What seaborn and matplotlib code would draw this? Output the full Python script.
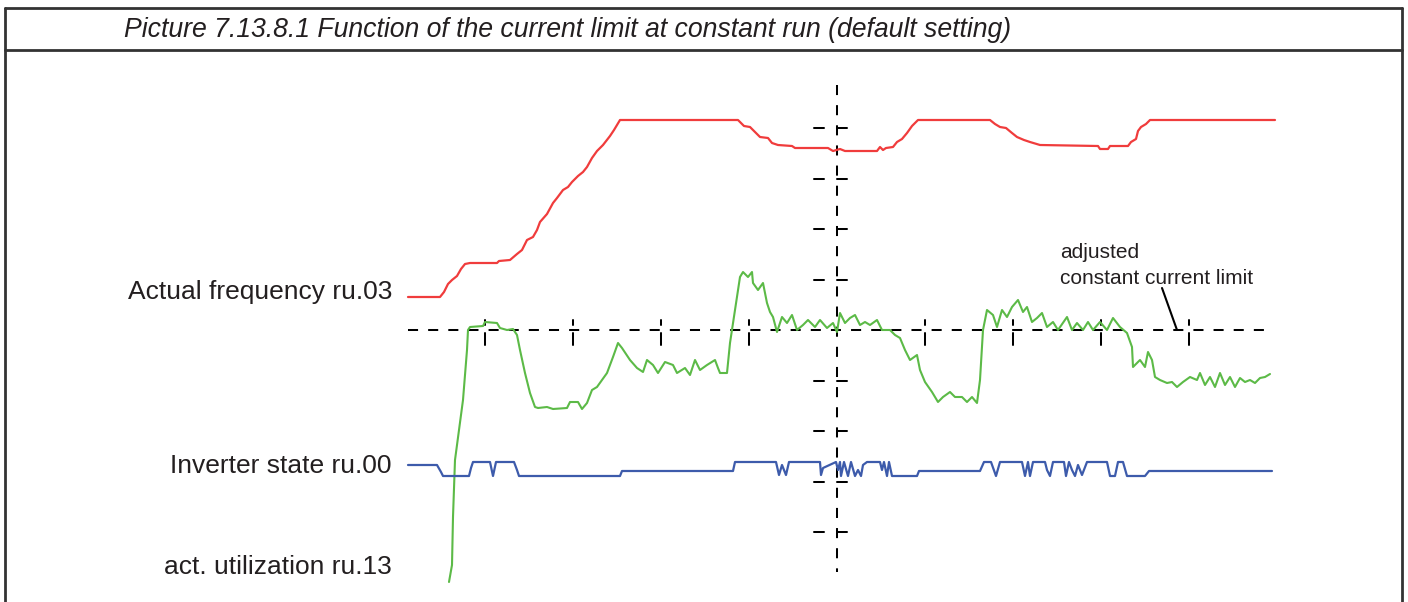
import seaborn as sns
import matplotlib.pyplot as plt
from matplotlib.lines import Line2D

# scope recording, time in ms from start, values in scope points
# (0 = adjusted constant current limit)
freq_t = [0, 32, 36, 40, 44, 49, 53, 57, 62, 89, 91, 102, 109, 114, 119, 125, 129, 132, 139,
          145, 149, 155, 160, 164, 170, 175, 179, 184, 189, 195, 202, 206, 212, 330, 336, 342,
          348, 352, 360, 364, 370, 384, 387, 420, 425, 432, 437, 469, 472, 475, 478, 485, 489,
          494, 499, 504, 510, 582, 587, 592, 598, 604, 609, 616, 622, 632, 690, 692, 700, 702,
          720, 723, 728, 730, 733, 738, 742, 867]
freq_v = [33, 33, 38, 46, 50, 54, 61, 66, 67, 67, 69, 70, 76, 80, 90, 93, 100, 108, 116,
          127, 132, 140, 143, 148, 154, 158, 163, 172, 179, 185, 194, 200, 210, 210, 204, 203,
          197, 193, 192, 187, 185, 184, 182, 182, 179, 181, 179, 179, 183, 180, 182, 183, 188,
          191, 197, 204, 210, 210, 206, 203, 202, 197, 193, 190, 188, 185, 184, 181, 181, 184,
          184, 188, 191, 199, 203, 206, 210, 210]

util_t = [41, 44, 45, 47, 52, 55, 59, 60, 62, 75, 77, 89, 92, 99, 105, 109, 112, 117, 122,
          127, 130, 139, 145, 159, 162, 170, 174, 179, 184, 189, 194, 199, 205, 210, 214, 222,
          229, 235, 239, 245, 250, 257, 265, 269, 277, 282, 287, 292, 299, 307, 310, 312, 319,
          322, 325, 329, 332, 335, 340, 344, 345, 350, 355, 359, 362, 365, 369, 374, 379, 384,
          389, 395, 400, 407, 412, 419, 425, 429, 432, 437, 442, 447, 452, 457, 462, 469, 474,
          482, 487, 492, 497, 502, 509, 512, 517, 524, 530, 535, 542, 547, 554, 559, 564, 569,
          572, 575, 579, 585, 589, 594, 599, 604, 610, 615, 619, 624, 629, 634, 639, 645, 650,
          659, 664, 669, 675, 680, 685, 692, 699, 705, 712, 719, 724, 725, 732, 737, 740, 744,
          747, 752, 759, 764, 769, 775, 782, 789, 792, 797, 802, 807, 812, 817, 822, 827, 832,
          837, 842, 847, 852, 857, 862]
util_v = [-252, -235, -187, -130, -93, -70, -20, 0, 3, 4, 8, 7, 2, 0, 1, -5, -20, -43, -63,
          -77, -78, -77, -79, -78, -72, -72, -79, -73, -60, -57, -50, -43, -27, -13, -18, -30,
          -38, -42, -30, -35, -43, -32, -35, -43, -38, -45, -30, -40, -35, -30, -38, -43, -43,
          -13, 7, 33, 53, 58, 53, 58, 47, 40, 47, 27, 18, 13, -2, 13, 7, 15,
          0, 5, 10, 3, 10, 2, 7, -2, 17, 7, 12, 15, 5, 8, 5, 10, 0,
          0, -5, -8, -20, -30, -25, -40, -52, -62, -72, -67, -62, -67, -67, -72, -67, -73,
          -50, 0, 20, 15, 3, 20, 13, 23, 30, 18, 23, 8, 12, 17, 3, 8, 0,
          13, 0, 7, 0, 8, 0, 8, 0, 12, 3, -3, -17, -37, -30, -37, -22, -30,
          -47, -50, -53, -52, -57, -52, -47, -50, -43, -55, -47, -57, -43, -55, -47, -57, -48,
          -52, -50, -53, -48, -47, -44]

state_t = [0, 29, 33, 35, 61, 63, 65, 82, 85, 88, 106, 109, 111, 212, 214, 325, 327, 368,
           371, 374, 378, 381, 412, 413, 415, 428, 430, 432, 433, 436, 440, 443, 447, 450,
           453, 455, 459, 472, 474, 476, 479, 481, 484, 487, 509, 511, 572, 576, 583, 588,
           592, 614, 617, 620, 622, 625, 637, 639, 642, 645, 656, 658, 661, 664, 667, 670,
           674, 679, 699, 702, 707, 710, 715, 719, 737, 741, 864]
state_v = [-135, -135, -142, -146, -146, -138, -132, -132, -146, -132, -132, -140, -146, -146,
           -141, -141, -132, -132, -145, -135, -145, -132, -132, -145, -138, -132, -140, -132,
           -146, -132, -146, -132, -146, -140, -146, -135, -132, -132, -140, -132, -146, -132,
           -146, -146, -146, -141, -141, -132, -132, -146, -132, -132, -146, -132, -146, -132,
           -132, -140, -146, -132, -132, -146, -132, -140, -146, -135, -145, -132, -132, -146,
           -146, -132, -132, -146, -146, -141, -141]

labels = ["Actual frequency ru.03", "Inverter state ru.00", "act. utilization ru.13"]
label_v = [38, -136, -237]
title = "Picture 7.13.8.1 Function of the current limit at constant run (default setting)"

# scope grid
t_center = 429
t_div = 88
v_div = 50.5

sns.set_style("white")
plt.rcParams['font.family'] = ['Liberation Sans', 'DejaVu Sans']

fig = plt.figure(figsize=(14.08, 6.02), dpi=100)
ax = fig.add_axes([0, 0, 1, 1])
ax.set_xlim(-408, 1000)
ax.set_ylim(-272, 330)
ax.axis('off')

dash = dict(color='black', lw=1.45, dashes=(5, 5))
ax.plot([0, 862], [0, 0], **dash)
ax.plot([t_center, t_center], [245, -242], **dash)
for k in [-4, -3, -2, -1, 1, 2, 3, 4]:
    tx = t_center + k * t_div
    ax.plot([tx, tx], [5, 10], color='black', lw=1.45)
    ax.plot([tx, tx], [-3, -15], color='black', lw=1.45)
    vy = k * v_div
    ax.plot([t_center - 23, t_center - 13], [vy, vy], color='black', lw=1.45)
    ax.plot([t_center, t_center + 10], [vy, vy], color='black', lw=1.45)

sns.lineplot(x=freq_t, y=freq_v, ax=ax, color='#f03c3c', linewidth=1.6,
             estimator=None, sort=False)
sns.lineplot(x=util_t, y=util_v, ax=ax, color='#5cba47', linewidth=1.5,
             estimator=None, sort=False)
sns.lineplot(x=state_t, y=state_v, ax=ax, color='#3d5bab', linewidth=1.6,
             estimator=None, sort=False)

for txt, v in zip(labels, label_v):
    ax.text(-16, v, txt, ha='right', va='center', fontsize=19, color='#231f20')

ax.text(652, 77, "adjusted", ha='left', va='center', fontsize=15, color='#231f20')
ax.text(652, 51, "constant current limit", ha='left', va='center', fontsize=15, color='#231f20')
ax.plot([754, 769], [42, 0], color='black', lw=1.5)

# frame around the picture
W, H = 1408, 602
frame = dict(color='#333333', lw=2, transform=fig.transFigure)
fig.add_artist(Line2D([5 / W, 5 / W], [0, 1 - 8 / H], **frame))
fig.add_artist(Line2D([1402 / W, 1402 / W], [0, 1 - 8 / H], **frame))
fig.add_artist(Line2D([5 / W, 1402 / W], [1 - 8 / H, 1 - 8 / H], **frame))
fig.add_artist(Line2D([5 / W, 1402 / W], [1 - 50 / H, 1 - 50 / H], **frame))
fig.text(124 / W, 1 - 30 / H, title, ha='left', va='center', fontsize=19.2,
         style='italic', color='#231f20')

fig.savefig("out.png", dpi=100)
